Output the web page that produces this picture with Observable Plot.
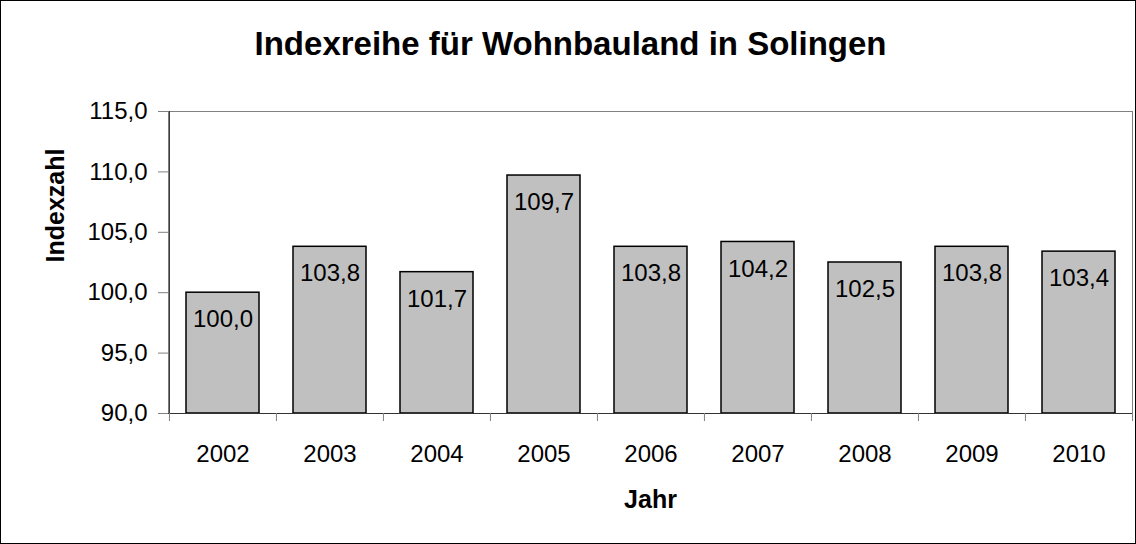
<!DOCTYPE html>
<html>
<head>
<meta charset="utf-8">
<script src="https://cdn.jsdelivr.net/npm/d3@7"></script>
<script src="https://cdn.jsdelivr.net/npm/@observablehq/plot@0.6"></script>
<style>
  html, body { margin: 0; padding: 0; background: #fff; }
  #chart svg { display: block; outline: 1px solid #000; outline-offset: -1px; }
</style>
</head>
<body>
<div id="chart"></div>
<script>
const titleText = "Indexreihe für Wohnbauland in Solingen";
const xTitle = "Jahr";
const yTitle = "Indexzahl";
const years = ["2002", "2003", "2004", "2005", "2006", "2007", "2008", "2009", "2010"];
const values = [100.0, 103.8, 101.7, 109.7, 103.8, 104.2, 102.5, 103.8, 103.4];
const yTicks = [90, 95, 100, 105, 110, 115];

const data = years.map((year, i) => ({year, value: values[i]}));
const fmt = d => d.toFixed(1).replace(".", ",");

const W = 1136, H = 544;
const mL = 168, mR = 4, mT = 111, mB = 131;
const bw = (W - mL - mR) / years.length;
const font = "'Liberation Sans', Arial, sans-serif";

const chart = Plot.plot({
  width: W,
  height: H,
  marginLeft: mL,
  marginRight: mR,
  marginTop: mT,
  marginBottom: mB,
  style: {fontFamily: font, background: "#fff", color: "#000"},
  x: {domain: years, padding: 0, axis: null},
  y: {domain: [90, 115], axis: null},
  marks: [
    Plot.frame({stroke: "#808080"}),
    Plot.barY(data, {x: "year", y1: 90, y2: "value", fill: "#C0C0C0", stroke: "#000", strokeWidth: 1.5, insetLeft: 17, insetRight: 17}),
    Plot.text(data, {x: "year", y: "value", text: d => fmt(d.value), dy: 27, fontSize: 24, fill: "#000"}),
    // left axis line
    Plot.ruleX(years.slice(0, 1), {x: d => d, dx: -bw / 2, stroke: "#333"}),
    // bottom axis line
    Plot.ruleY([90], {stroke: "#333"}),
    // category boundary ticks
    Plot.ruleX(years, {x: d => d, dx: -bw / 2, insetTop: H - mT - mB, insetBottom: -8, stroke: "#808080"}),
    Plot.ruleX(years.slice(-1), {x: d => d, dx: bw / 2, insetTop: H - mT - mB, insetBottom: -8, stroke: "#808080"}),
    Plot.axisY({ticks: yTicks, tickSize: 10, tickPadding: 11, tickFormat: fmt, fontSize: 24, stroke: "#808080", fill: "#000", label: null}),
    Plot.axisX({tickSize: 0, tickPadding: 31, fontSize: 24, fill: "#000", label: null}),
    Plot.text([titleText], {frameAnchor: "top", dx: -80, dy: -67, fontSize: 33, fontWeight: "bold", fill: "#000", lineAnchor: "middle"}),
    Plot.text([xTitle], {frameAnchor: "bottom", dy: 86, fontSize: 25, fontWeight: "bold", fill: "#000", lineAnchor: "middle"}),
    Plot.text([yTitle], {frameAnchor: "left", dx: -113, rotate: -90, fontSize: 25, fontWeight: "bold", fill: "#000", lineAnchor: "middle"})
  ]
});
document.getElementById("chart").appendChild(chart);
</script>
</body>
</html>
